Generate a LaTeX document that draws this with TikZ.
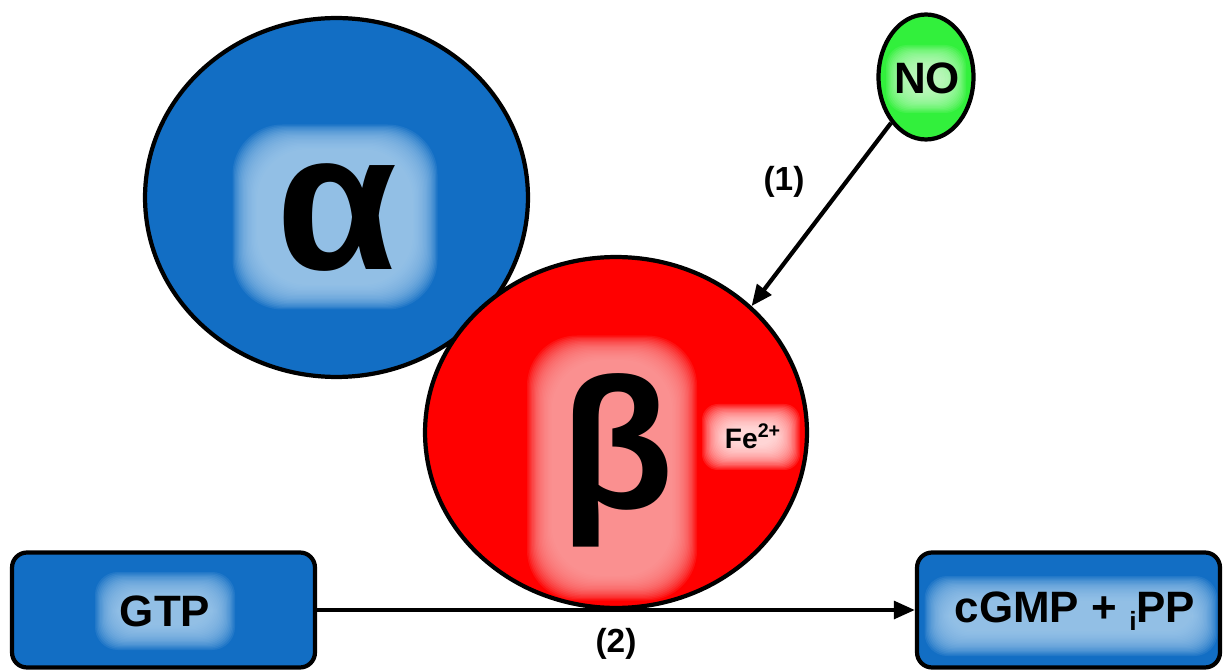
\documentclass[tikz,border=0pt]{standalone}
\usepackage{fontspec}
\setmainfont{Liberation Sans}
\usetikzlibrary{arrows.meta, positioning, shapes.geometric}

\definecolor{subblue}{RGB}{18,110,196}
\definecolor{subbluedark}{RGB}{12,88,160}
\definecolor{subred}{RGB}{255,0,0}
\definecolor{subreddark}{RGB}{215,0,0}
\definecolor{nogreen}{RGB}{50,240,60}
\definecolor{nogreendark}{RGB}{30,200,40}
\definecolor{blueglow}{RGB}{165,205,238}
\definecolor{redglow}{RGB}{250,165,165}
\definecolor{greenglow}{RGB}{205,255,205}
\definecolor{feglow}{RGB}{255,240,240}

% darker rim towards the border of the subunits
\pgfdeclareradialshading{bluerim}{\pgfpoint{0bp}{0bp}}{color(0bp)=(subblue); color(36bp)=(subblue); color(50bp)=(subbluedark)}
\pgfdeclareradialshading{redrim}{\pgfpoint{0bp}{0bp}}{color(0bp)=(subred); color(36bp)=(subred); color(50bp)=(subreddark)}
\pgfdeclareradialshading{greenrim}{\pgfpoint{0bp}{0bp}}{color(0bp)=(nogreen); color(30bp)=(nogreen); color(50bp)=(nogreendark)}

% soft light patch behind a label: cx, cy, w, h (px), corner radius, colour
\newcommand{\glow}[6]{%
  \foreach \k in {0,...,19}{
    \fill[#6, opacity=0.11, rounded corners=#5]
      ({#1-#3/2+1.3*\k},{#2-#4/2+1.3*\k}) rectangle ({#1+#3/2-1.3*\k},{#2+#4/2-1.3*\k});
  }}

\begin{document}
\begin{tikzpicture}[
    x=0.02cm, y=-0.02cm,
    subunit/.style={ellipse, draw, line width=2.4pt, inner sep=0pt},      % alpha, beta, NO
    molbox/.style={rectangle, draw, line width=2.4pt, rounded corners=0.3cm,
                   fill=subblue, minimum width=6.06cm, minimum height=2.3cm}, % GTP, cGMP
    conn/.style={line width=2.4pt, -{Triangle[length=12pt, width=10pt]}},  % arrows
    lbl/.style={font=\bfseries\fontsize{19}{21}\selectfont},
    boxtxt/.style={font=\bfseries\fontsize{25}{28}\selectfont}
]
\useasboundingbox (0,0) rectangle (1226,671);

% --- ALPHA SUBUNIT ---
\node[subunit, shading=bluerim, minimum width=7.66cm, minimum height=7.18cm] (alpha) at (336.5,197.5) {};
\glow{335}{217}{205}{185}{1cm}{blueglow}
\node (alphatxt) at (337,218) {\bfseries\fontsize{112}{112}\selectfont α};

% --- BETA SUBUNIT ---
\node[subunit, shading=redrim, minimum width=7.64cm, minimum height=7.02cm] (beta) at (616,432.5) {};
\glow{612}{468}{170}{265}{1cm}{redglow}
\glow{751}{437}{98}{66}{9pt}{feglow}
\node (betatxt) at (617,460) {\bfseries\fontsize{106}{106}\selectfont β};
\node[font=\bfseries\fontsize{16}{18}\selectfont] (fe) at (753,436) {Fe\textsuperscript{2+}};

% --- NO ---
\node[subunit, shading=greenrim, minimum width=1.9cm, minimum height=2.5cm] (no) at (926,77) {};
\glow{926}{79}{80}{68}{12pt}{greenglow}
\node[boxtxt] (notxt) at (927,78) {NO};

% --- GTP AND PRODUCTS ---
\node[molbox] (gtp) at (163.5,610) {};
\glow{165}{611}{140}{78}{13pt}{blueglow}
\node[boxtxt] (gtptxt) at (165,611) {GTP};

\node[molbox] (cgmp) at (1068.5,610) {};
\glow{1071}{616}{293}{80}{13pt}{blueglow}
\node[boxtxt] (cgmptxt) at (1075,611) {cGMP + \raisebox{-0.35ex}{\fontsize{15}{15}\selectfont i}PP};

% --- CONNECTIONS ---
\draw[conn] (no) -- (beta.43);
\node[lbl] (step1) at (784,182) {(1)};
\draw[conn] (gtp) -- node[lbl, below=0.2cm] (step2) {(2)} (cgmp);

\end{tikzpicture}
\end{document}
